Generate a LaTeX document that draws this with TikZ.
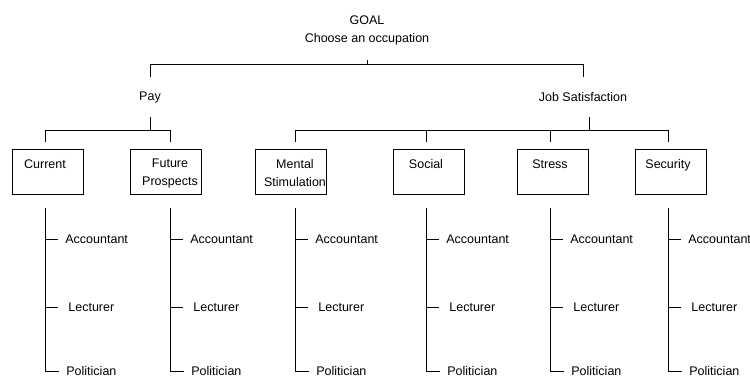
\documentclass[tikz,border=0pt]{standalone}
\usepackage{fontspec}
\setmainfont{Liberation Sans}
\usepackage{tikz}

\begin{document}
\begin{tikzpicture}[x=1pt,y=-1pt,font=\fontsize{12.5}{18}\selectfont,line width=0.8pt,
  crit/.style={draw,minimum width=71pt,minimum height=45pt,inner sep=0pt},
  critlbl/.style={align=center,inner sep=0pt},
  alt/.style={anchor=west,inner xsep=7pt,inner ysep=0pt}]

\useasboundingbox (0,0) rectangle (750,381);

% Goal and main criteria
\node[align=center,inner sep=0pt] (goal) at (367,30) {GOAL\\Choose an occupation};
\node[minimum height=40pt,inner sep=0pt] (pay) at (150,97) {Pay};
\node[minimum height=40pt,inner sep=0pt] (job) at (583,97) {Job Satisfaction};
\coordinate (pay-s) at (pay.south);
\coordinate (job-s) at ([xshift=6pt]job.south);

\draw (goal.south) ++(0,15) -- ++(0,4.5) -| (pay.north);
\draw (goal.south) ++(0,15) -- ++(0,4.5) -| (job.north);

% Sub-criteria and alternatives
\foreach \n/\bx/\dx/\lbl/\up in {cur/48.3/45/{Current\\~}/pay,
    fut/166.3/170/{Future\\Prospects}/pay,
    men/290.5/295/{Mental\\Stimulation}/job,
    soc/428.5/426/{Social\\~}/job,
    str/553/550/{Stress\\~}/job,
    sec/670.5/668/{Security\\~}/job}{
  \node[crit] (\n) at (\bx,171.5) {};
  \node[critlbl] (\n-t) at (\dx,173) {\lbl};
  \draw[shorten >=7pt] (\up-s) -- ++(0,13) -| (\n-t |- \n.north);

  \node[alt] (\n-acc) at (\dx+13,239) {Accountant};
  \node[alt] (\n-lec) at (\dx+16,307) {Lecturer};
  \node[alt] (\n-pol) at (\dx+14,371) {Politician};
  \draw (\n-t |- \n.south) ++(0,14) |- (\n-pol.west);
  \draw (\n-t |- \n-acc) -- (\n-acc.west);
  \draw (\n-t |- \n-lec) -- ([xshift=-3pt]\n-lec.west);
}

\end{tikzpicture}
\end{document}
